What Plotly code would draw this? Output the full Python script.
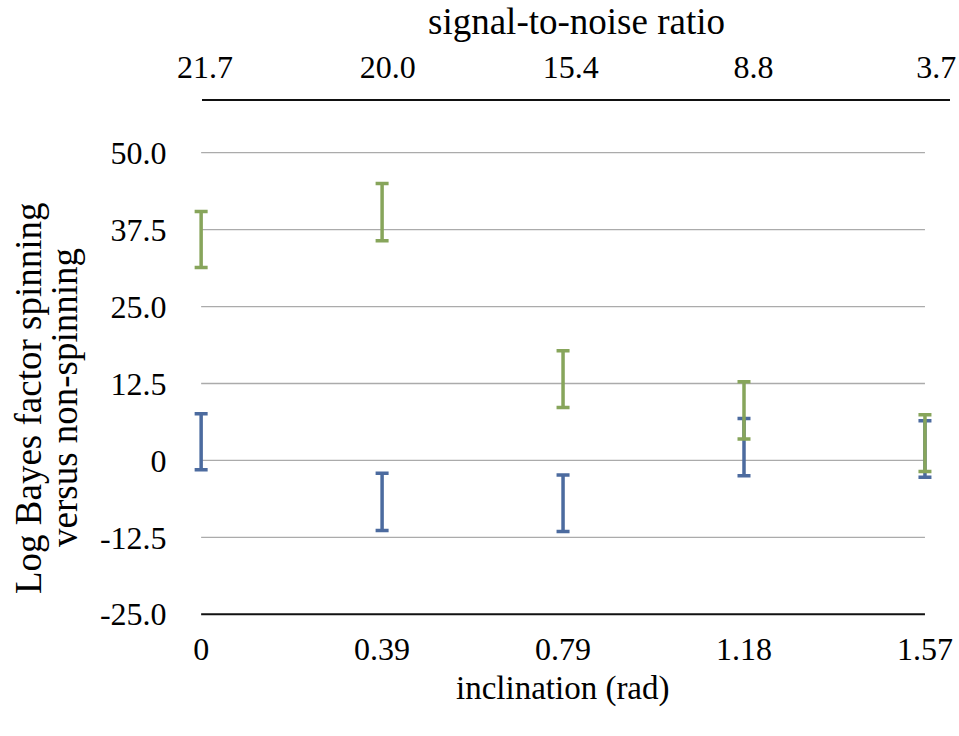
import plotly.graph_objects as go

# Data
inclination_labels = ["0", "0.39", "0.79", "1.18", "1.57"]
snr_labels = ["21.7", "20.0", "15.4", "8.8", "3.7"]
green_mean = [35.9, 40.35, 13.2, 8.15, 2.8]
green_err = [4.55, 4.65, 4.6, 4.65, 4.6]
blue_mean = [3.05, -6.75, -6.95, 2.15, 1.85]
blue_err = [4.55, 4.65, 4.6, 4.65, 4.6]
y_tickvals = [50, 37.5, 25, 12.5, 0, -12.5, -25]
y_ticktext = ["50.0", "37.5", "25.0", "12.5", "0", "-12.5", "-25.0"]
y_title_lines = ["Log Bayes factor spinning", "versus non-spinning"]

W, H = 959, 736
L, R, T, B = 193, 9, 101, 120
PW = W - L - R
PH = H - T - B

FONT = "Liberation Serif, Times New Roman, Times, serif"
FS = 32
GREEN = "#87A55B"
BLUE = "#4C6B9F"
GRID = "#ABABAB"
AXIS = "#111111"

pos = list(range(len(inclination_labels)))
x_lo, x_hi = pos[0], pos[-1]
y_lo = min(y_tickvals)

fig = go.Figure()
fig.add_trace(go.Scatter(
    x=pos, y=blue_mean, mode="markers", cliponaxis=False,
    marker=dict(size=1, color="rgba(0,0,0,0)"),
    error_y=dict(type="data", array=blue_err, visible=True,
                 color=BLUE, thickness=3.5, width=6.5),
    showlegend=False, hoverinfo="skip"))
fig.add_trace(go.Scatter(
    x=pos, y=green_mean, mode="markers", cliponaxis=False,
    marker=dict(size=1, color="rgba(0,0,0,0)"),
    error_y=dict(type="data", array=green_err, visible=True,
                 color=GREEN, thickness=3.5, width=6.5),
    showlegend=False, hoverinfo="skip"))
# secondary (top) axis: signal-to-noise ratio
fig.add_trace(go.Scatter(
    x=pos, y=[None] * len(pos), xaxis="x2", yaxis="y", mode="markers",
    showlegend=False, hoverinfo="skip"))

# gridlines spanning first..last category, and bottom axis line
shapes = []
for v in y_tickvals:
    is_axis = (v == y_lo)
    shapes.append(dict(
        type="line", xref="x", yref="y", x0=x_lo, x1=x_hi, y0=v, y1=v,
        line=dict(color=AXIS if is_axis else GRID,
                  width=2 if is_axis else 1.3),
        layer="above" if is_axis else "below"))

x_dom_end = (933.1 - L) / PW
x2_dom_start = (201.7 - L) / PW

annotations = []
for txt, xc in zip(y_title_lines, [28, 64]):
    annotations.append(dict(
        text=txt, textangle=-90, xref="paper", yref="paper",
        x=(xc - L) / PW, y=1 - (398 - T) / PH,
        xanchor="center", yanchor="middle", showarrow=False,
        font=dict(family=FONT, size=37, color="black")))
annotations += [
    dict(text="inclination (rad)", xref="paper", yref="paper",
         x=(563 - L) / PW, y=1 - (688 - T) / PH,
         xanchor="center", yanchor="middle", showarrow=False,
         font=dict(family=FONT, size=33, color="black")),
    dict(text="signal-to-noise ratio", xref="paper", yref="paper",
         x=(576 - L) / PW, y=1 - (22 - T) / PH,
         xanchor="center", yanchor="middle", showarrow=False,
         font=dict(family=FONT, size=37, color="black")),
]

fig.update_layout(
    width=W, height=H,
    margin=dict(l=L, r=R, t=T, b=B, autoexpand=False),
    paper_bgcolor="white", plot_bgcolor="rgba(0,0,0,0)",
    font=dict(family=FONT, size=FS, color="black"),
    shapes=shapes,
    annotations=annotations,
    xaxis=dict(
        domain=[0, x_dom_end], range=[-0.045, 4.045],
        tickmode="array", tickvals=pos, ticktext=inclination_labels,
        showgrid=False, zeroline=False, automargin=False,
        showline=False,
        ticks="outside", ticklen=5, tickcolor="rgba(0,0,0,0)",
        tickfont=dict(family=FONT, size=FS, color="black"),
        anchor="y"),
    xaxis2=dict(
        side="top", anchor="y",
        domain=[x2_dom_start, 1], range=[-0.018, 4.075],
        tickmode="array", tickvals=pos, ticktext=snr_labels,
        showgrid=False, zeroline=False, automargin=False,
        showline=True, linecolor=AXIS, linewidth=2,
        ticks="outside", ticklen=8, tickcolor="rgba(0,0,0,0)",
        tickfont=dict(family=FONT, size=FS, color="black")),
    yaxis=dict(
        range=[-25.28, 58.4], anchor="x", automargin=False,
        tickmode="array", tickvals=y_tickvals, ticktext=y_ticktext,
        showgrid=False, zeroline=False, showline=False,
        ticks="outside", ticklen=19, tickcolor="rgba(0,0,0,0)",
        tickfont=dict(family=FONT, size=FS, color="black")),
)

fig.write_html("out.html")
